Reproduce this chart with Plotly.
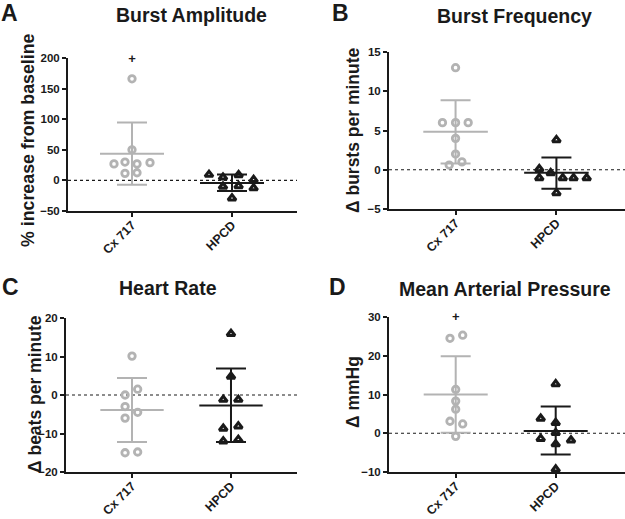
import plotly.graph_objects as go

# ---------------- data ----------------
categories = ["Cx 717", "HPCD"]

# Panel A: Burst Amplitude (% increase from baseline)
a_cx = [166, 50, 27, 30, 27, 29, 11.5, 12.5]
a_hp = [9.5, 5, 9, 1, -10, -9, -12.5, -29]
a_mean = [43.5, -4.3]
a_upper = [94.6, 9.8]
a_lower = [-7, -17.4]
a_plus = 197

# Panel B: Burst Frequency (Δ bursts per minute)
b_cx = [13, 6, 6, 6, 4, 2, 1, 0.6]
b_hp = [3.8, 0.1, -1.05, -0.4, -1.05, -1.05, -1.05, -2.95]
b_mean = [4.83, -0.38]
b_upper = [8.86, 1.57]
b_lower = [0.8, -2.42]
b_plus = 15.8

# Panel C: Heart Rate (Δ beats per minute)
c_cx = [10.1, 1.5, 0, -3, -4.5, -6, -15, -14.8]
c_hp = [15.9, 4.8, -1.2, -1.2, -8.7, -8.1, -12, -11.6]
c_mean = [-3.9, -2.7]
c_upper = [4.4, 6.9]
c_lower = [-12.2, -12.2]

# Panel D: Mean Arterial Pressure (Δ mmHg)
d_cx = [24.5, 25.3, 11.3, 8.3, 6.2, 3.1, 2.4, -0.8]
d_hp = [12.7, 3.8, 2.7, 0.1, -1.4, -2.8, -1.8, -9.3]
d_mean = [10.0, 0.6]
d_upper = [19.9, 6.9]
d_lower = [0.1, -5.5]
d_plus = 29.9

y_ticks_a = [-50, 0, 50, 100, 150, 200]
y_ticks_b = [-5, 0, 5, 10, 15]
y_ticks_c = [-20, -10, 0, 10, 20]
y_ticks_d = [-10, 0, 10, 20, 30]

# ---------------- layout / style ----------------
# horizontal spread of points within a column (category units)
a_cx_off = [0, 0, -0.18, -0.07, 0.05, 0.18, -0.07, 0.05]
a_hp_off = [-0.23, -0.09, 0.066, 0.216, -0.09, 0.066, 0.216, 0]
b_cx_off = [0, -0.13, 0, 0.125, 0, 0, 0.063, -0.063]
b_hp_off = [0, -0.17, -0.17, -0.057, 0.063, 0.17, 0.3, 0]
c_cx_off = [0, 0.057, -0.07, -0.07, 0.057, -0.07, -0.07, 0.057]
c_hp_off = [0, 0, -0.078, 0.074, -0.078, 0.074, -0.078, 0.074]
d_cx_off = [-0.057, 0.07, 0, 0, 0, -0.057, 0.07, 0]
d_hp_off = [0, -0.15, 0, 0, -0.15, 0, 0.153, 0]

W, H = 625, 519
GRAY = "#b3b3b3"
BLACK = "#1a1a1a"
FONT = "Arial, Liberation Sans, sans-serif"

def px(x):
    return x / W

def py(y):
    return 1 - y / H

panels = [
    dict(cx=a_cx, hp=a_hp, cxo=a_cx_off, hpo=a_hp_off, mean=a_mean, up=a_upper, lo=a_lower,
         plus=a_plus, ticks=y_ticks_a, xdom=(68, 297), ydom=(58, 211), xr=(-0.64, 1.65)),
    dict(cx=b_cx, hp=b_hp, cxo=b_cx_off, hpo=b_hp_off, mean=b_mean, up=b_upper, lo=b_lower,
         plus=b_plus, ticks=y_ticks_b, xdom=(389, 625), ydom=(52, 209), xr=(-0.66, 1.68)),
    dict(cx=c_cx, hp=c_hp, cxo=c_cx_off, hpo=c_hp_off, mean=c_mean, up=c_upper, lo=c_lower,
         plus=None, ticks=y_ticks_c, xdom=(66, 297), ydom=(318, 472), xr=(-0.667, 1.667)),
    dict(cx=d_cx, hp=d_hp, cxo=d_cx_off, hpo=d_hp_off, mean=d_mean, up=d_upper, lo=d_lower,
         plus=d_plus, ticks=y_ticks_d, xdom=(389, 625), ydom=(317, 472), xr=(-0.667, 1.693)),
]

fig = go.Figure()
layout = dict(
    width=W, height=H, margin=dict(l=0, r=0, t=0, b=0, autoexpand=False),
    paper_bgcolor="white", plot_bgcolor="white", showlegend=False,
    font=dict(family=FONT, color=BLACK),
)
shapes = []

for i, p in enumerate(panels):
    n = "" if i == 0 else str(i + 1)
    xa, ya = "x" + n, "y" + n
    colors = [GRAY, BLACK]
    # SD error bars and mean lines
    for k in range(2):
        fig.add_trace(go.Scatter(
            x=[k], y=[p["mean"][k]], mode="markers", marker=dict(size=0.1, color="rgba(0,0,0,0)"),
            error_y=dict(type="data", symmetric=False,
                         array=[p["up"][k] - p["mean"][k]],
                         arrayminus=[p["mean"][k] - p["lo"][k]],
                         width=15, thickness=2, color=colors[k]),
            xaxis=xa, yaxis=ya, hoverinfo="skip", cliponaxis=False))
        fig.add_trace(go.Scatter(
            x=[k - 0.32, k + 0.32], y=[p["mean"][k], p["mean"][k]], mode="lines",
            line=dict(color=colors[k], width=2), xaxis=xa, yaxis=ya, hoverinfo="skip"))
    # points
    fig.add_trace(go.Scatter(
        x=[0 + o for o in p["cxo"]], y=p["cx"], mode="markers",
        marker=dict(symbol="circle-open", size=6.5, color=GRAY, line=dict(width=2.8, color=GRAY)),
        xaxis=xa, yaxis=ya, cliponaxis=False))
    fig.add_trace(go.Scatter(
        x=[1 + o for o in p["hpo"]], y=p["hp"], mode="markers",
        marker=dict(symbol="triangle-up-open", size=7, color=BLACK, line=dict(width=3, color=BLACK)),
        xaxis=xa, yaxis=ya, cliponaxis=False))
    if p["plus"] is not None:
        fig.add_trace(go.Scatter(
            x=[0], y=[p["plus"]], mode="text", text=["<b>+</b>"],
            textfont=dict(size=13, color=BLACK, family=FONT),
            xaxis=xa, yaxis=ya, hoverinfo="skip", cliponaxis=False))
    # dotted zero line
    shapes.append(dict(type="line", xref=xa + " domain", yref=ya, x0=0, x1=1, y0=0, y1=0,
                       line=dict(color=BLACK, width=1.2, dash="dot"), layer="below"))
    key = "xaxis" + n
    layout[key] = dict(
        domain=[px(p["xdom"][0]), px(p["xdom"][1])], range=list(p["xr"]),
        anchor=ya, tickvals=[0, 1], ticktext=categories, tickangle=-45,
        showline=True, linewidth=2, linecolor=BLACK, ticks="outside", ticklen=4,
        tickwidth=2, tickcolor=BLACK, showgrid=False, zeroline=False, automargin=False,
        ticklabelstandoff=-4,
        tickfont=dict(size=12.5, family=FONT, color=BLACK, weight="bold"), fixedrange=True)
    layout["yaxis" + n] = dict(
        domain=[py(p["ydom"][1]), py(p["ydom"][0])],
        range=[p["ticks"][0], p["ticks"][-1]], anchor=xa,
        tickvals=p["ticks"], showline=True, linewidth=2, linecolor=BLACK,
        ticks="outside", ticklen=4, tickwidth=2, tickcolor=BLACK,
        showgrid=False, zeroline=False, automargin=False,
        tickfont=dict(size=11.5, family=FONT, color=BLACK, weight="bold"), fixedrange=True)

layout["shapes"] = shapes

ann = []
def text_ann(txt, x, y, size, angle=0, xanchor="center"):
    ann.append(dict(text="<b>" + txt + "</b>", x=px(x), y=py(y), xref="paper", yref="paper",
                    showarrow=False, textangle=angle, xanchor=xanchor, yanchor="middle",
                    font=dict(size=size, family=FONT, color=BLACK)))

# panel letters
text_ann("A", 9, 13, 23)
text_ann("B", 340, 13, 23)
text_ann("C", 10, 287, 23)
text_ann("D", 337, 287, 23)
# panel titles
text_ann("Burst Amplitude", 191, 15, 19.5)
text_ann("Burst Frequency", 514, 16, 19.5)
text_ann("Heart Rate", 168, 288, 19.5)
text_ann("Mean Arterial Pressure", 505, 289, 19.5)
# y axis titles
text_ann("% increase from baseline", 28, 140, 17.8, angle=-90)
text_ann("Δ bursts per minute", 353, 130, 17.5, angle=-90)
text_ann("Δ beats per minute", 35, 394, 17.5, angle=-90)
text_ann("Δ mmHg", 353, 392, 17.5, angle=-90)

layout["annotations"] = ann
fig.update_layout(**layout)
fig.write_html(
    "out.html",
    config={"displayModeBar": False},
    post_script="document.body.style.margin='0';document.body.style.overflow='hidden';",
)
